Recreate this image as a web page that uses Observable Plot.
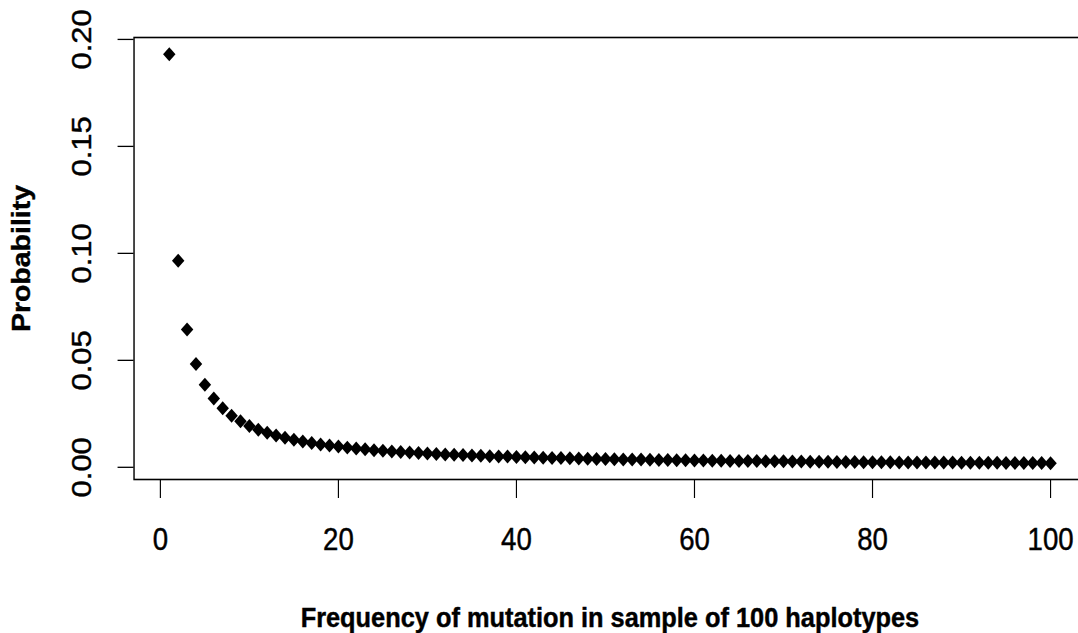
<!DOCTYPE html>
<html>
<head>
<meta charset="utf-8">
<script src="https://cdn.jsdelivr.net/npm/d3@7"></script>
<script src="https://cdn.jsdelivr.net/npm/@observablehq/plot@0.6"></script>
<style>
  html, body { margin: 0; padding: 0; background: #fff; }
  #wrap { width: 1078px; height: 633px; overflow: hidden; position: relative; }
  #chart { transform: scaleX(0.89); transform-origin: 0 0; width: 1236px; }
  #chart svg text { stroke: #000; stroke-width: 0.45px; }
</style>
</head>
<body>
<div id="wrap"><div id="chart"></div></div>
<script>
// Frequency of mutation (number of haplotypes carrying it)
const frequency = [
  1,2,3,4,5,6,7,8,9,10,11,12,13,14,15,16,17,18,19,20,
  21,22,23,24,25,26,27,28,29,30,31,32,33,34,35,36,37,38,39,40,
  41,42,43,44,45,46,47,48,49,50,51,52,53,54,55,56,57,58,59,60,
  61,62,63,64,65,66,67,68,69,70,71,72,73,74,75,76,77,78,79,80,
  81,82,83,84,85,86,87,88,89,90,91,92,93,94,95,96,97,98,99,100
];
// Probability
const probability = [
  0.1931,0.0966,0.0644,0.0483,0.0386,0.0322,0.0276,0.0241,0.0215,0.0193,
  0.0176,0.0161,0.0149,0.0138,0.0129,0.0121,0.0114,0.0107,0.0102,0.0097,
  0.0092,0.0088,0.0084,0.0080,0.0077,0.0074,0.0072,0.0069,0.0067,0.0064,
  0.0062,0.0060,0.0059,0.0057,0.0055,0.0054,0.0052,0.0051,0.0050,0.0048,
  0.0047,0.0046,0.0045,0.0044,0.0043,0.0042,0.0041,0.0040,0.0039,0.0039,
  0.0038,0.0037,0.0036,0.0036,0.0035,0.0034,0.0034,0.0033,0.0033,0.0032,
  0.0032,0.0031,0.0031,0.0030,0.0030,0.0029,0.0029,0.0028,0.0028,0.0028,
  0.0027,0.0027,0.0026,0.0026,0.0026,0.0025,0.0025,0.0025,0.0024,0.0024,
  0.0024,0.0024,0.0023,0.0023,0.0023,0.0022,0.0022,0.0022,0.0022,0.0021,
  0.0021,0.0021,0.0021,0.0021,0.0020,0.0020,0.0020,0.0020,0.0020,0.0019
];
const xTicks = [0, 20, 40, 60, 80, 100];
const yTicks = [0, 0.05, 0.10, 0.15, 0.20];
const xTitle = "Frequency of mutation in sample of 100 haplotypes";
const yTitle = "Probability";

const data = frequency.map((f, i) => ({f, p: probability[i]}));

const chart = Plot.plot({
  width: 1236,
  height: 633,
  marginLeft: 150.1,
  marginRight: 16.5,
  marginTop: 37,
  marginBottom: 154,
  style: {fontFamily: "'Liberation Sans', Arial, sans-serif", fontSize: "31px", color: "#000", background: "#fff"},
  x: {domain: [-2.96, 103.96]},
  y: {domain: [-0.0057, 0.2009]},
  marks: [
    Plot.axisX({ticks: xTicks, tickSize: 19, tickPadding: 29, tickFormat: d3.format("d"), label: null, fontSize: 31, strokeWidth: 1.3}),
    Plot.axisY({ticks: yTicks, tickSize: 18, tickPadding: 40, tickRotate: -90, textAnchor: "middle", lineAnchor: "middle",
                tickFormat: d3.format(".2f"), label: null, fontSize: 31, strokeWidth: 1.3}),
    Plot.frame({stroke: "#000", strokeWidth: 1.6}),
    Plot.dot(data, {x: "f", y: "p", symbol: "diamond2", r: 6.3, fill: "#000", stroke: "none"}),
    Plot.text([xTitle], {frameAnchor: "bottom", dy: 127, lineAnchor: "top", textAnchor: "middle", fontSize: 28.5, fontWeight: "bold"}),
    Plot.text([yTitle], {frameAnchor: "left", dx: -136.6, rotate: -90, lineAnchor: "top", textAnchor: "middle", fontSize: 28.5, fontWeight: "bold"})
  ]
});
document.getElementById("chart").appendChild(chart);
</script>
</body>
</html>
